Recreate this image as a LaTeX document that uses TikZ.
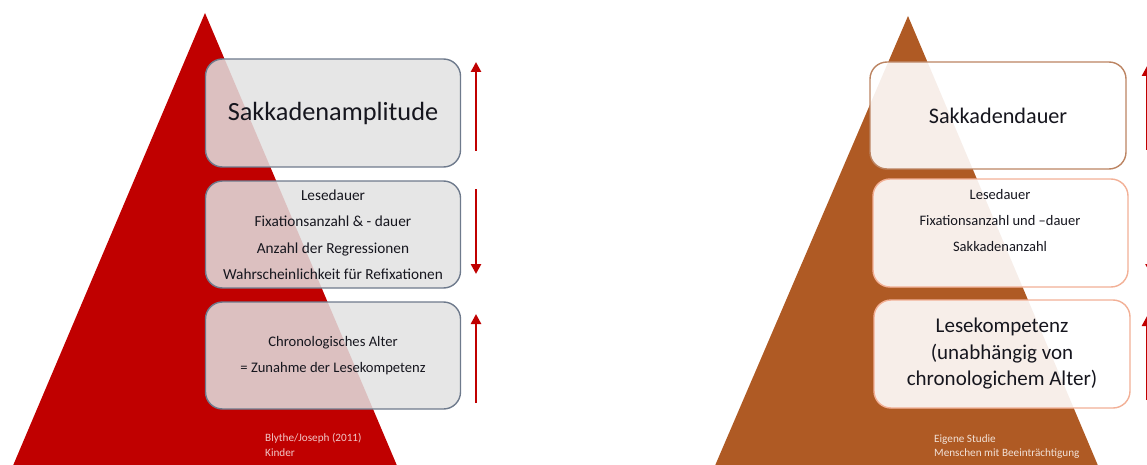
\documentclass[tikz,border=0pt]{standalone}
\usepackage{fontspec}
\setmainfont{Carlito}
\usetikzlibrary{arrows.meta}
\definecolor{pyrred}{HTML}{C00000}
\definecolor{pyrbrown}{HTML}{AF5A24}
\definecolor{txtdark}{HTML}{16161E}
\definecolor{greyedge}{HTML}{6E7A8C}
\definecolor{boxfill}{HTML}{E2E2E2}
\definecolor{brownedge}{HTML}{BC8462}
\definecolor{salmonedge}{HTML}{F2B096}
\definecolor{arrowred}{HTML}{C00000}
\tikzset{
  levelbox/.style={rectangle, rounded corners=17pt, line width=1.4pt,
    inner sep=0pt, text=txtdark, align=center},
  greybox/.style={levelbox, draw=greyedge, fill=boxfill, fill opacity=0.85,
    text opacity=1},
  whitebox/.style={levelbox, fill=white, fill opacity=0.9, text opacity=1},
  trend/.style={draw=arrowred, line width=2.6pt,
    -{Triangle[width=10pt,length=10pt]}},
  boxtext/.style={text=txtdark, align=center, inner sep=0pt},
  footnote/.style={align=left, inner sep=0pt, anchor=north west,
    font=\fontsize{11.2}{14.5}\selectfont},
}
\begin{document}
\begin{tikzpicture}[x=1pt,y=-1pt]
\useasboundingbox (0,0) rectangle (1147,465);

% two pyramids
\fill[pyrred] (205,13) -- (398,468) -- (12,468) -- cycle;
\fill[pyrbrown] (908,16) -- (1099,468) -- (714,468) -- cycle;

% ---- left column: children ----
\node[greybox, minimum width=255pt, minimum height=108pt,
  font=\fontsize{26.3}{30}\selectfont] (la) at (333,113) {Sakkadenamplitude};
\node[greybox, minimum width=255pt, minimum height=107pt,
  font=\fontsize{15.3}{26.5}\selectfont] (lb) at (333,234.5)
  {Lesedauer\\Fixationsanzahl \& - dauer\\Anzahl der Regressionen\\Wahrscheinlichkeit für Refixationen};
\node[greybox, minimum width=255pt, minimum height=107pt,
  font=\fontsize{14.6}{26}\selectfont] (lc) at (333,355.5)
  {Chronologisches Alter\\= Zunahme der Lesekompetenz};

\node[footnote, text=white!78!pyrred] (lnote) at (265,433.5)
  {Blythe/Joseph (2011)\\Kinder};

\coordinate (la0) at (476,151); \coordinate (la1) at (476,62);
\coordinate (lb0) at (476,189); \coordinate (lb1) at (476,274);
\coordinate (lc0) at (476,403); \coordinate (lc1) at (476,314);
\draw[trend] (la0) -- (la1);
\draw[trend] (lb0) -- (lb1);
\draw[trend] (lc0) -- (lc1);

% ---- right column: own study ----
\node[whitebox, draw=brownedge, minimum width=256pt, minimum height=107pt,
  font=\fontsize{22.2}{26}\selectfont] (ra) at (998,115.5) {Sakkadendauer};
\node[whitebox, draw=salmonedge, minimum width=255pt, minimum height=108pt] (rb) at (1000.5,233) {};
\node[boxtext, font=\fontsize{14.5}{26}\selectfont] (rbt) at (1000,221)
  {Lesedauer\\Fixationsanzahl und –dauer\\Sakkadenanzahl};
\node[whitebox, draw=salmonedge, minimum width=256pt, minimum height=108pt,
  font=\fontsize{21}{26.5}\selectfont] (rc) at (1002,354)
  {Lesekompetenz\\(unabhängig von\\chronologichem Alter)};

\node[footnote, text=white!82!pyrbrown] (rnote) at (934,434.5)
  {Eigene Studie\\Menschen mit Beeinträchtigung};

\coordinate (ra0) at (1147,150); \coordinate (ra1) at (1147,66);
\coordinate (rb0) at (1150.5,190); \coordinate (rb1) at (1150.5,274);
\coordinate (rc0) at (1147,400); \coordinate (rc1) at (1147,316);
\draw[trend] (ra0) -- (ra1);
\draw[trend] (rb0) -- (rb1);
\draw[trend] (rc0) -- (rc1);
\end{tikzpicture}
\end{document}
